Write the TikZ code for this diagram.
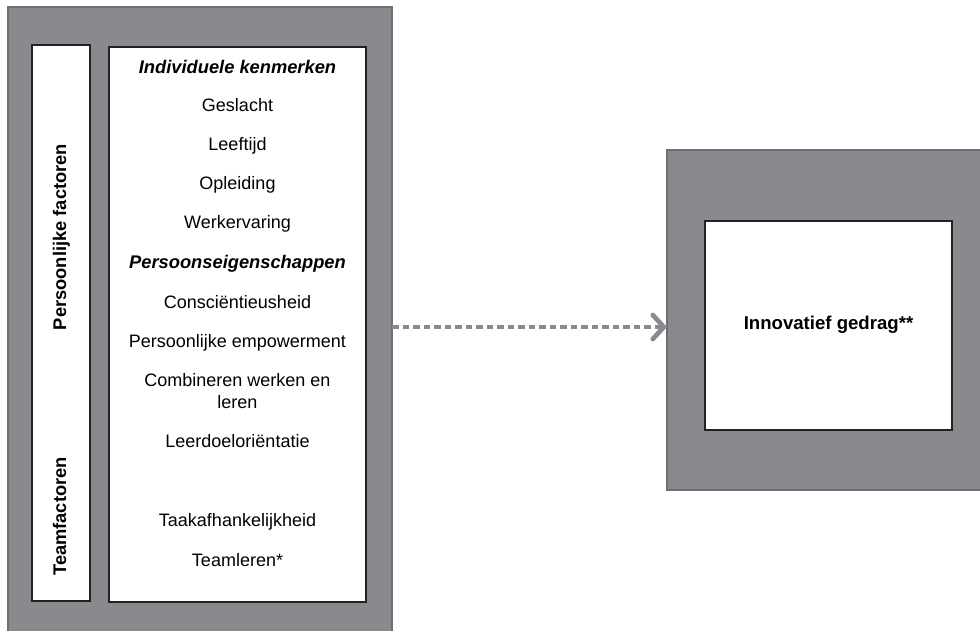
\documentclass[tikz,border=0pt]{standalone}
\usepackage{fontspec}
\setmainfont{Liberation Sans}
\usetikzlibrary{arrows.meta}

\definecolor{panelgrey}{HTML}{898A8D}
\definecolor{edgegrey}{HTML}{6E6F72}
\definecolor{boxline}{HTML}{222222}

\begin{document}
\begin{tikzpicture}[x=1pt, y=-1pt,
    greybox/.style = {draw=edgegrey, line width=1.6pt, fill=panelgrey, outer sep=0pt},
    whitebox/.style = {draw=boxline, line width=1.4pt, fill=white, outer sep=0pt},
    item/.style = {anchor=base, font=\fontsize{18}{21.5}\selectfont, align=center, inner sep=0pt},
    head/.style = {item, font=\fontsize{18.3}{21.5}\selectfont\bfseries\itshape},
    side/.style = {anchor=base, rotate=90, font=\fontsize{18.3}{21}\selectfont\bfseries, inner sep=0pt},
    flow/.style = {draw=panelgrey, line width=4.7pt, dash pattern=on 6.5pt off 4pt,
                   -{Straight Barb[length=11pt, width=24pt, line cap=round]}}]
    \useasboundingbox (0,0) rectangle (980,631);

    % left block: factors
    \node[greybox, minimum width=384pt, minimum height=627pt] (factors) at (200,320.5) {};
    \node[whitebox, minimum width=58pt, minimum height=556pt] (strip) at (61,323) {};
    \node[whitebox, minimum width=257pt, minimum height=555pt] (list) at (237.5,324.5) {};

    \node[side] (pers) at (66,237) {Persoonlijke factoren};
    \node[side] (team) at (66,516.5) {Teamfactoren};

    \node[head] (indiv) at (237.5,74) {Individuele kenmerken};
    \node[item] (sex) at (237.5,112) {Geslacht};
    \node[item] (age) at (237.5,151) {Leeftijd};
    \node[item] (edu) at (237.5,190) {Opleiding};
    \node[item] (exp) at (237.5,229) {Werkervaring};
    \node[head] (traits) at (237.5,269) {Persoonseigenschappen};
    \node[item] (consc) at (237.5,308) {Consciëntieusheid};
    \node[item] (empow) at (237.5,347) {Persoonlijke empowerment};
    % base of a two-line node sits on its last line
    \node[item] (comb) at (237.5,408) {Combineren werken en\\leren};
    \node[item] (goal) at (237.5,447) {Leerdoeloriëntatie};
    \node[item] (task) at (237.5,526) {Taakafhankelijkheid};
    \node[item] (tlearn) at (237.5,566) {Teamleren*};

    % right block: outcome
    \node[greybox, minimum width=317pt, minimum height=340pt] (outcome) at (825.5,320) {};
    \node[whitebox, minimum width=247pt, minimum height=209pt] (innov) at (828.5,325.5) {};
    \node[item, font=\fontsize{18.6}{21}\selectfont\bfseries] (innovtext) at (828.5,329) {Innovatief gedrag**};

    \coordinate (flowstart) at (392,327);
    \path[flow] (flowstart) -- (outcome.west |- flowstart);
\end{tikzpicture}
\end{document}
